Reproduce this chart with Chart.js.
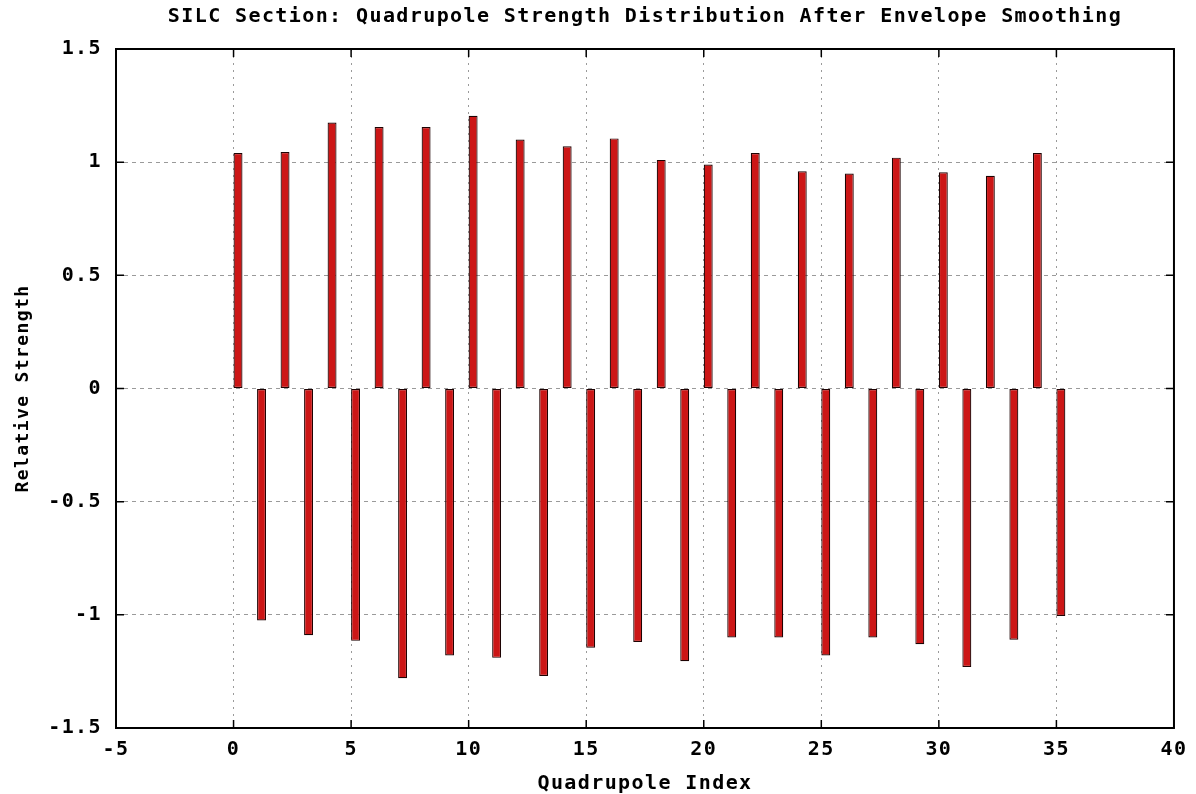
<!DOCTYPE html>
<html>
<head>
<meta charset="utf-8">
<script src="https://cdn.jsdelivr.net/npm/chart.js@4.4.1/dist/chart.umd.min.js"></script>
<style>
    html, body { margin: 0; padding: 0; background: #fff; }
</style>
</head>
<body>
<canvas id="quadChart" width="1196" height="794"></canvas>
<script>
// quadrupole index and relative strength
const quadIndex = [0, 1, 2, 3, 4, 5, 6, 7, 8, 9, 10, 11, 12, 13, 14, 15, 16, 17,
    18, 19, 20, 21, 22, 23, 24, 25, 26, 27, 28, 29, 30, 31, 32, 33, 34, 35];
const strength = [1.04, -1.025, 1.045, -1.09, 1.175, -1.115, 1.155, -1.28, 1.155, -1.18,
    1.205, -1.19, 1.10, -1.27, 1.07, -1.145, 1.105, -1.12, 1.01, -1.205,
    0.99, -1.10, 1.04, -1.10, 0.96, -1.18, 0.95, -1.10, 1.02, -1.13,
    0.955, -1.23, 0.94, -1.11, 1.04, -1.005];
const xTicks = [-5, 0, 5, 10, 15, 20, 25, 30, 35, 40];
const yTicks = [-1.5, -1, -0.5, 0, 0.5, 1, 1.5];

Chart.defaults.font.family = "'DejaVu Sans Mono', monospace";
Chart.defaults.font.weight = 'bold';
Chart.defaults.font.size = 20;
Chart.defaults.color = '#000';

// gnuplot style frame: full box plus inward tick marks
const frame = {
    id: 'frame',
    beforeDraw(chart) {
        chart.ctx.letterSpacing = '1.4px';
    },
    afterDatasetsDraw(chart) {
        const { ctx, chartArea: a, scales: { x, y } } = chart;
        ctx.save();
        ctx.setLineDash([]);
        ctx.strokeStyle = '#000';
        ctx.lineWidth = 1.5;
        ctx.beginPath();
        xTicks.forEach(v => {
            const px = x.getPixelForValue(v);
            ctx.moveTo(px, a.bottom); ctx.lineTo(px, a.bottom - 8);
            ctx.moveTo(px, a.top); ctx.lineTo(px, a.top + 8);
        });
        yTicks.forEach(v => {
            const py = y.getPixelForValue(v);
            ctx.moveTo(a.left, py); ctx.lineTo(a.left + 8, py);
            ctx.moveTo(a.right, py); ctx.lineTo(a.right - 8, py);
        });
        ctx.stroke();
        ctx.lineWidth = 2;
        ctx.strokeRect(a.left, a.top, a.right - a.left, a.bottom - a.top);
        ctx.restore();
    }
};

const fmt = v => String(Number(Number(v).toFixed(1)));

new Chart(document.getElementById('quadChart'), {
    type: 'bar',
    data: {
        datasets: [
            // empty spacer so the boxes sit just right of each index, like the original
            { label: '', data: [] },
            {
                label: 'Relative Strength',
                data: quadIndex.map((q, i) => ({ x: q, y: strength[i] })),
                backgroundColor: '#cc1616',
                borderColor: '#1e0303',
                borderWidth: 1.2,
                borderSkipped: false
            }
        ]
    },
    options: {
        responsive: false,
        animation: false,
        categoryPercentage: 0.76,
        barPercentage: 1,
        layout: { padding: { left: 0, right: 20, top: 0, bottom: 0 } },
        plugins: {
            legend: { display: false },
            tooltip: { enabled: false },
            title: {
                display: true,
                text: 'SILC Section: Quadrupole Strength Distribution After Envelope Smoothing',
                fullSize: false,
                font: { size: 20, weight: 'bold', lineHeight: 1.2 },
                color: '#000',
                padding: { top: 5, bottom: 20 }
            }
        },
        scales: {
            x: {
                type: 'linear',
                min: -5,
                max: 40,
                offset: false,
                afterBuildTicks: s => { s.ticks = xTicks.map(v => ({ value: v })); },
                afterFit: s => { s.height = 66; },
                ticks: { padding: 10, callback: fmt, maxRotation: 0, autoSkip: false },
                grid: { offset: false, color: '#9a9a9a', lineWidth: 1, drawTicks: false },
                border: { display: false, dash: [2, 5] },
                title: {
                    display: true,
                    text: 'Quadrupole Index',
                    font: { size: 20, weight: 'bold', lineHeight: 1 },
                    padding: { top: 0, bottom: 0 }
                }
            },
            y: {
                type: 'linear',
                min: -1.5,
                max: 1.5,
                afterBuildTicks: s => { s.ticks = yTicks.map(v => ({ value: v })); },
                afterFit: s => { s.width = 116; },
                ticks: { padding: 14, callback: fmt },
                grid: { color: '#9a9a9a', lineWidth: 1, drawTicks: false },
                border: { display: false, dash: [4, 4] },
                title: {
                    display: true,
                    text: 'Relative Strength',
                    font: { size: 18, weight: 'bold', lineHeight: 1 },
                    padding: { top: 14, bottom: 0 }
                }
            }
        }
    },
    plugins: [frame]
});
</script>
</body>
</html>
